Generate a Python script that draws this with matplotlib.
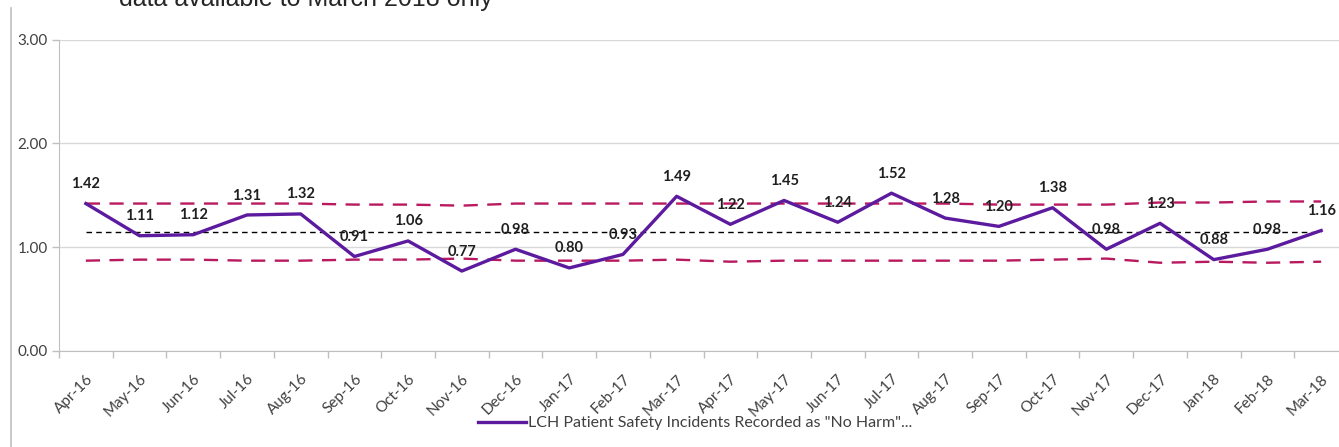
import matplotlib
matplotlib.use("Agg")
import matplotlib.pyplot as plt
from matplotlib.lines import Line2D

plt.rcParams['font.family'] = ['Lato', 'DejaVu Sans']

months = ['Apr-16', 'May-16', 'Jun-16', 'Jul-16', 'Aug-16', 'Sep-16', 'Oct-16', 'Nov-16',
          'Dec-16', 'Jan-17', 'Feb-17', 'Mar-17', 'Apr-17', 'May-17', 'Jun-17', 'Jul-17',
          'Aug-17', 'Sep-17', 'Oct-17', 'Nov-17', 'Dec-17', 'Jan-18', 'Feb-18', 'Mar-18']
no_harm = [1.42, 1.11, 1.12, 1.31, 1.32, 0.91, 1.06, 0.77, 0.98, 0.80, 0.93, 1.49,
           1.22, 1.45, 1.24, 1.52, 1.28, 1.20, 1.38, 0.98, 1.23, 0.88, 0.98, 1.16]
upper = [1.42, 1.42, 1.42, 1.42, 1.42, 1.41, 1.41, 1.40, 1.42, 1.42, 1.42, 1.42,
         1.42, 1.42, 1.42, 1.42, 1.42, 1.41, 1.41, 1.41, 1.43, 1.43, 1.44, 1.44]
lower = [0.87, 0.88, 0.88, 0.87, 0.87, 0.88, 0.88, 0.89, 0.87, 0.87, 0.87, 0.88,
         0.86, 0.87, 0.87, 0.87, 0.87, 0.87, 0.88, 0.89, 0.85, 0.86, 0.85, 0.86]
mean_val = 1.15
yticks = [0.0, 1.0, 2.0, 3.0]
series_name = 'LCH Patient Safety Incidents Recorded as "No Harm"...'

fig = plt.figure(figsize=(13.39, 4.47), dpi=100)
ax = fig.add_axes([59 / 1339, 96 / 447, 1289 / 1339, 311.5 / 447])

x = list(range(len(months)))
ax.plot(x, upper, color='#b8195f', lw=1.7, ls=(0, (6, 4)), zorder=2)
ax.plot(x, lower, color='#b8195f', lw=1.7, ls=(0, (6, 4)), zorder=2)
ax.plot(x, [mean_val] * len(x), color='black', lw=1.0, ls=(0, (4, 3)), zorder=2)
line, = ax.plot(x, no_harm, color='#5c1a9e', lw=2.4, zorder=3, label=series_name)

# data labels above each point
for xi, v in zip(x, no_harm):
    ax.annotate(f'{v:.2f}', (xi, v), xytext=(0, 14), textcoords='offset points',
                ha='center', va='center', fontsize=10.5, fontweight='bold',
                color='#1f1f1f', zorder=4)

ax.set_xlim(-0.5, len(months) - 0.5)
ax.set_ylim(0, 3)
ax.set_yticks(yticks)
ax.set_yticklabels([f'{t:.2f}' for t in yticks])
ax.yaxis.grid(True, color='#d9d9d9', lw=1)
ax.set_axisbelow(True)

ax.set_xticks(x)
ax.set_xticklabels(months, rotation=45, ha='right', rotation_mode='anchor')
ax.set_xticks([i + 0.5 for i in range(-1, len(months))], minor=True)
ax.tick_params(axis='x', which='major', length=0, pad=15, labelsize=11, labelcolor='#404040')
ax.tick_params(axis='x', which='minor', length=5, color='#bfbfbf', width=1)
ax.tick_params(axis='y', length=5, color='#bfbfbf', width=1, labelsize=11,
               labelcolor='#404040', pad=3)

for side in ['top', 'right']:
    ax.spines[side].set_visible(False)
ax.spines['left'].set_color('#bfbfbf')
ax.spines['bottom'].set_color('#bfbfbf')

fig.legend(handles=[line], loc='center', bbox_to_anchor=(695 / 1339, 1 - 423 / 447),
           frameon=False, fontsize=11.5, labelcolor='#404040', handlelength=3.0,
           handletextpad=0.15)

# outer frame edge and heading running off the top
fig.add_artist(Line2D([11 / 1339, 11 / 1339], [0, 1 - 8 / 447], color='#bfbfbf', lw=1.2))
fig.text(119 / 1339, 1 - 6 / 447, 'data available to March 2018 only', fontsize=18,
         family='Liberation Sans', va='baseline', color='#262626')

fig.savefig('out.png', dpi=100)
